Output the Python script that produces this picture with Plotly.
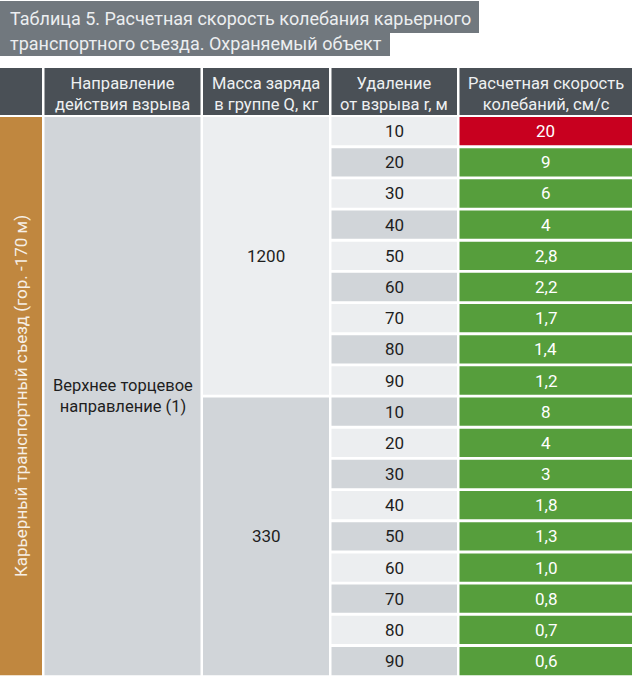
import plotly.graph_objects as go

# ---------------- data ----------------
title_lines = ["Таблица 5. Расчетная скорость колебания карьерного",
               "транспортного съезда. Охраняемый объект"]
header_labels = ["", "Направление<br>действия взрыва", "Масса заряда<br>в группе Q, кг",
                 "Удаление<br>от взрыва r, м", "Расчетная скорость<br>колебаний, см/с"]
protected_object = "Карьерный транспортный съезд (гор. -170 м)"
blast_direction = "Верхнее торцевое<br>направление (1)"
charge_masses = [1200, 330]
distances = [10, 20, 30, 40, 50, 60, 70, 80, 90]
velocity_1200 = [20, 9, 6, 4, 2.8, 2.2, 1.7, 1.4, 1.2]
velocity_330 = [8, 4, 3, 1.8, 1.3, 1.0, 0.8, 0.7, 0.6]
velocity_limit = 10  # values at/above are highlighted red

groups = [(charge_masses[0], velocity_1200), (charge_masses[1], velocity_330)]


def fmt(v):
    return str(int(v)) if v >= 3 else f"{v:.1f}".replace(".", ",")


# ---------------- layout geometry ----------------
W, H = 632, 678
cols = [(0, 42), (44.5, 200.5), (203, 329), (331.5, 457), (459.5, 632)]
head_top, head_bot = 68, 115
row_top0, pitch, cell_h = 117, 31.17, 28.3

C_TITLE = "#71787e"
C_HEAD = "#4a5056"
C_ORANGE = "#c0873f"
C_GRAY = "#d1d5d9"
C_LIGHT = "#eceef0"
C_GREEN = "#569e3c"
C_RED = "#c8001f"
FONT = "Roboto, Open Sans, sans-serif"

shapes, ann = [], []


def rect(x0, y0, x1, y1, color):
    shapes.append(dict(type="rect", xref="x", yref="y", x0=x0, x1=x1, y0=y0, y1=y1,
                       fillcolor=color, line=dict(width=0), layer="below"))


def text(x, y, s, color="#1e1e1e", size=17, xanchor="center", angle=0, family=FONT):
    ann.append(dict(x=x, y=y, xref="x", yref="y", text=s, showarrow=False,
                    xanchor=xanchor, yanchor="middle", textangle=angle,
                    font=dict(family=family, size=size, color=color)))


# title boxes
rect(0, 1, 479, 33, C_TITLE)
rect(0, 33, 390, 56, C_TITLE)
text(8, 18, title_lines[0], color="#eceef0", size=18, xanchor="left")
text(8, 43, title_lines[1], color="#eceef0", size=18, xanchor="left")

# header
for (x0, x1), lab in zip(cols, header_labels):
    rect(x0, head_top, x1, head_bot, C_HEAD)
    if lab:
        text((x0 + x1) / 2, (head_top + head_bot) / 2 + 2, lab, color="#eef0f2", size=16.5)

n_rows = sum(len(v) for _, v in groups)
body_bot = row_top0 + (n_rows - 1) * pitch + cell_h

# merged first two columns
rect(cols[0][0], row_top0, cols[0][1], body_bot, C_ORANGE)
text((cols[0][0] + cols[0][1]) / 2, (row_top0 + body_bot) / 2, protected_object,
     color="#f6efe6", size=17, angle=-90)
rect(cols[1][0], row_top0, cols[1][1], body_bot, C_GRAY)
text((cols[1][0] + cols[1][1]) / 2, (row_top0 + body_bot) / 2, blast_direction, size=16.5)

i = 0
for g, (mass, vals) in enumerate(groups):
    g_top = row_top0 + i * pitch
    g_bot = row_top0 + (i + len(vals) - 1) * pitch + cell_h
    rect(cols[2][0], g_top, cols[2][1], g_bot, C_LIGHT if g == 0 else C_GRAY)
    text((cols[2][0] + cols[2][1]) / 2, (g_top + g_bot) / 2, str(mass))
    for d, v in zip(distances, vals):
        y0 = row_top0 + i * pitch
        y1 = y0 + cell_h
        rect(cols[3][0], y0, cols[3][1], y1, C_LIGHT if i % 2 == 0 else C_GRAY)
        text((cols[3][0] + cols[3][1]) / 2, (y0 + y1) / 2, str(d))
        rect(cols[4][0], y0, cols[4][1], y1, C_RED if v >= velocity_limit else C_GREEN)
        text((cols[4][0] + cols[4][1]) / 2, (y0 + y1) / 2, fmt(v), color="#ffffff")
        i += 1

fig = go.Figure()
fig.add_trace(go.Scatter(x=[0, W], y=[0, H], mode="markers", marker=dict(opacity=0),
                         hoverinfo="skip", showlegend=False))
fig.update_layout(
    width=W, height=H, margin=dict(l=0, r=0, t=0, b=0),
    paper_bgcolor="white", plot_bgcolor="white",
    xaxis=dict(range=[0, W], visible=False, fixedrange=True),
    yaxis=dict(range=[H, 0], visible=False, fixedrange=True),
    shapes=shapes, annotations=ann, showlegend=False,
)
fig.write_html("out.html", config=dict(displayModeBar=False),
               post_script="document.body.style.margin='0px';document.body.style.overflow='hidden';")
